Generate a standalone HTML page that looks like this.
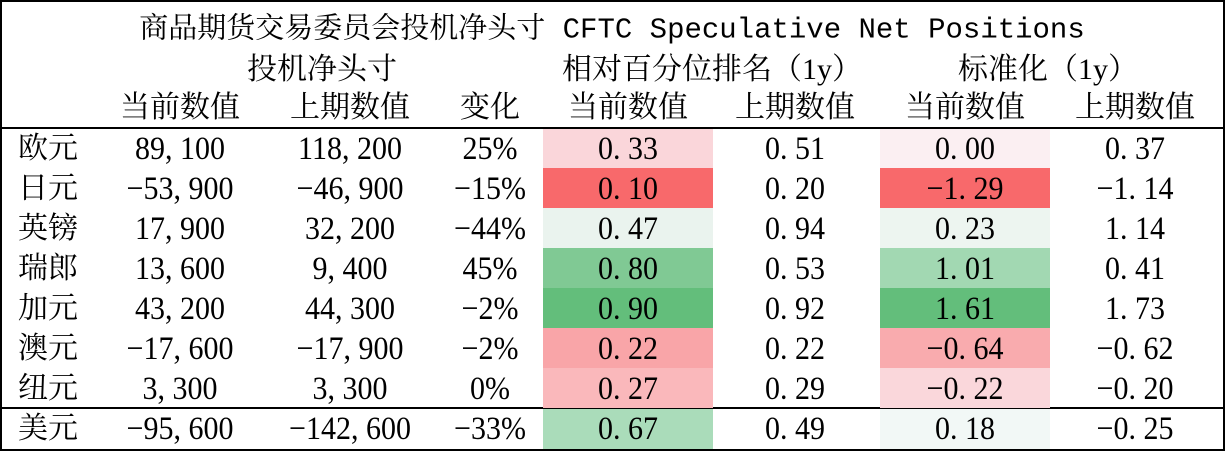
<!DOCTYPE html><html><head><meta charset="utf-8"><style>
body{margin:0;width:1225px;height:451px;background:#fff;position:relative;overflow:hidden;font-family:"Liberation Serif","Noto Serif CJK SC",serif;font-size:30px;color:#000}
.t{position:absolute;transform:translate(-50%,-50%);white-space:nowrap;line-height:1}
.n{transform:translate(-50%,-50%) scaleY(1.1)}
.c{position:absolute;height:40px}
.l{position:absolute;background:#000}
.m{font-family:"Liberation Mono","Noto Serif CJK SC",monospace;font-size:29px}
</style></head><body>
<div class="l" style="left:0;top:0;width:1225px;height:2px"></div>
<div class="l" style="left:0;top:449px;width:1225px;height:2px"></div>
<div class="l" style="left:0;top:0;width:2px;height:451px"></div>
<div class="l" style="left:1223px;top:0;width:2px;height:451px"></div>
<div class="l" style="left:0;top:127px;width:1225px;height:2px"></div>
<div class="l" style="left:0;top:407px;width:1225px;height:2px"></div>
<div class="c" style="left:543px;top:129px;width:170px;background:#fad6da"></div>
<div class="c" style="left:543px;top:168px;width:170px;background:#f8696b"></div>
<div class="c" style="left:543px;top:208px;width:170px;background:#eaf3ee"></div>
<div class="c" style="left:543px;top:248px;width:170px;background:#80c994"></div>
<div class="c" style="left:543px;top:288px;width:170px;background:#63be7b"></div>
<div class="c" style="left:543px;top:328px;width:170px;background:#f9a5a8"></div>
<div class="c" style="left:543px;top:368px;width:170px;background:#fab8bb"></div>
<div class="c" style="left:543px;top:409px;width:170px;background:#aadcba"></div>
<div class="c" style="left:880px;top:129px;width:170px;background:#fbeff2"></div>
<div class="c" style="left:880px;top:168px;width:170px;background:#f8696b"></div>
<div class="c" style="left:880px;top:208px;width:170px;background:#edf5f0"></div>
<div class="c" style="left:880px;top:248px;width:170px;background:#a2d8b2"></div>
<div class="c" style="left:880px;top:288px;width:170px;background:#63be7b"></div>
<div class="c" style="left:880px;top:328px;width:170px;background:#f9abae"></div>
<div class="c" style="left:880px;top:368px;width:170px;background:#fad7db"></div>
<div class="c" style="left:880px;top:409px;width:170px;background:#f2f8f6"></div>
<div class="t m" style="left:612px;top:30px">商品期货交易委员会投机净头寸 CFTC Speculative Net Positions</div>
<div class="t" style="left:322px;top:70px">投机净头寸</div>
<div class="t" style="left:712px;top:70px">相对百分位排名（1y）</div>
<div class="t" style="left:1048px;top:70px">标准化（1y）</div>
<div id="g"></div>
<script>
var xs=[48,180,350,490,628,795,965,1135];
var h=["","当前数值","上期数值","变化","当前数值","上期数值","当前数值","上期数值"];
var d=[["欧元","89,100","118,200","25%","0.33","0.51","0.00","0.37"],
["日元","-53,900","-46,900","-15%","0.10","0.20","-1.29","-1.14"],
["英镑","17,900","32,200","-44%","0.47","0.94","0.23","1.14"],
["瑞郎","13,600","9,400","45%","0.80","0.53","1.01","0.41"],
["加元","43,200","44,300","-2%","0.90","0.92","1.61","1.73"],
["澳元","-17,600","-17,900","-2%","0.22","0.22","-0.64","-0.62"],
["纽元","3,300","3,300","0%","0.27","0.29","-0.22","-0.20"],
["美元","-95,600","-142,600","-33%","0.67","0.49","0.18","-0.25"]];
var s="";
h.forEach(function(v,i){s+='<div class="t" style="left:'+xs[i]+'px;top:108px">'+v+'</div>'});
var ys=[149,189,229,269,309,349,389,429];
d.forEach(function(r,j){r.forEach(function(v,i){v=v.replace(/,/g,', ').replace(/\./g,'. ').replace(/-/g,'−');s+='<div class="t'+(i?' n':'')+'" style="left:'+xs[i]+'px;top:'+ys[j]+'px">'+v+'</div>'})});
document.getElementById("g").innerHTML=s;
</script>
</body></html>
